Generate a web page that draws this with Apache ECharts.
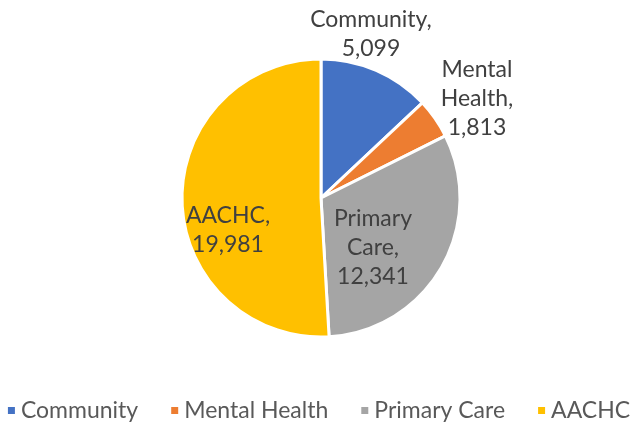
<!DOCTYPE html>
<html>
<head>
<meta charset="utf-8">
<script src="https://cdn.jsdelivr.net/npm/echarts@6/dist/echarts.min.js"></script>
<style>
  html, body { margin: 0; padding: 0; background: #fff; }
  #chart-container { width: 636px; height: 423px; }
</style>
</head>
<body>
<div id="chart-container"></div>
<script>
var categories = ['Community', 'Mental Health', 'Primary Care', 'AACHC'];
var values = [5099, 1813, 12341, 19981];
var colors = ['#4472C4', '#ED7D31', '#A5A5A5', '#FFC000'];

// label text per slice, split like the original
var labelTexts = ['Community,\n5,099', 'Mental\nHealth,\n1,813', 'Primary\nCare,\n12,341', 'AACHC,\n19,981'];
// where each label sits (pixel centre)
var labelSpots = [[371, 34], [477, 99], [373, 248], [228, 230]];

var dom = document.getElementById('chart-container');
var myChart = echarts.init(dom, null, { renderer: 'canvas' });

var option = {
  animation: false,
  color: colors,
  legend: {
    bottom: -4,
    left: 'center',
    itemWidth: 9,
    itemHeight: 9,
    itemGap: 31,
    icon: 'rect',
    textStyle: { fontFamily: 'Lato', fontSize: 23, color: '#595959' },
    data: categories
  },
  series: [{
    type: 'pie',
    center: [321, 198],
    radius: 139,
    startAngle: 90,
    clockwise: true,
    itemStyle: { borderColor: '#fff', borderWidth: 3 },
    label: {
      show: true,
      fontFamily: 'Lato',
      fontSize: 23,
      lineHeight: 29,
      color: '#404040',
      formatter: function (p) { return labelTexts[p.dataIndex]; }
    },
    labelLine: { show: false },
    labelLayout: function (p) {
      var s = labelSpots[p.dataIndex];
      return { x: s[0], y: s[1], align: 'center', verticalAlign: 'middle' };
    },
    data: categories.map(function (c, i) {
      return { name: c, value: values[i] };
    })
  }]
};

myChart.setOption(option);
window.addEventListener('resize', myChart.resize);
</script>
</body>
</html>
